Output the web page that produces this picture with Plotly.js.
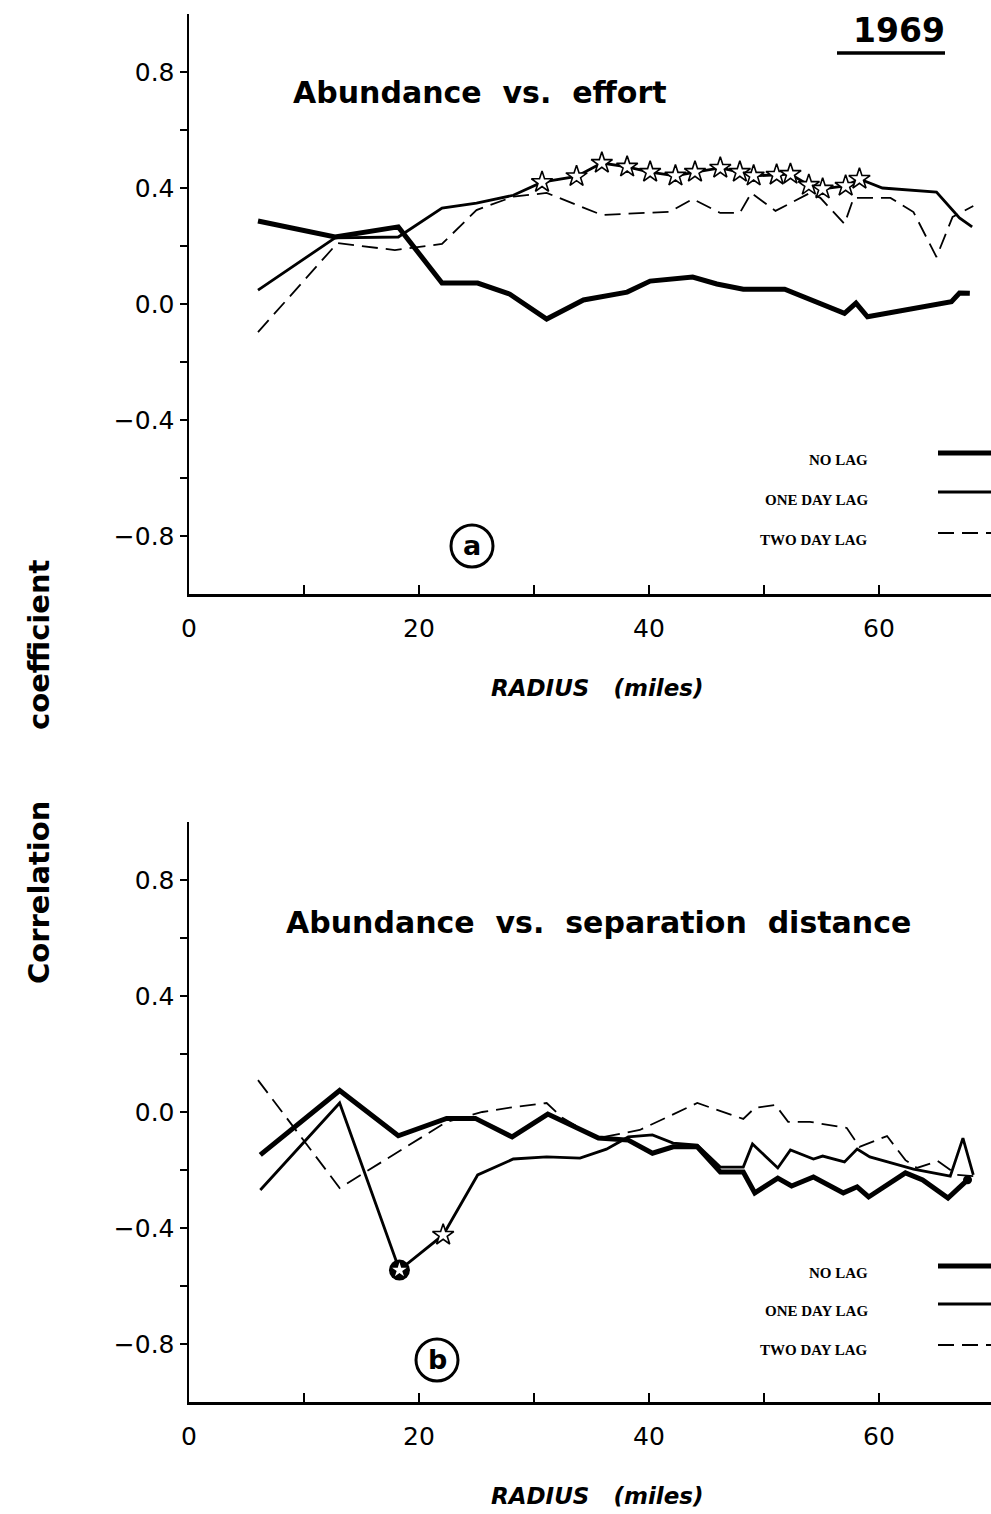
<!DOCTYPE html>
<html>
<head>
<meta charset="utf-8">
<script src="https://cdn.plot.ly/plotly-3.0.1.min.js"></script>
<style>html,body{margin:0;padding:0;background:#fff;}</style>
</head>
<body>
<div id="chart" style="width:991px;height:1514px;"></div>
<script>
// ---------- DATA ----------
// Panel (a): Abundance vs. effort
const topX_noLag = [6.0,12.7,18.2,22.0,25.1,27.9,31.1,34.3,38.1,40.1,43.8,45.9,48.2,51.8,57.0,58.0,59.0,66.3,67.0,67.9];
const topY_noLag = [0.286,0.231,0.266,0.072,0.072,0.034,-0.052,0.014,0.041,0.079,0.093,0.069,0.051,0.051,-0.032,0.003,-0.044,0.008,0.038,0.037];

const topX_oneLag = [6.0,12.7,18.2,22.0,25.0,28.2,30.7,33.7,35.9,38.1,40.1,42.3,44.0,46.2,47.9,49.1,51.1,52.3,53.9,55.1,57.1,58.3,60.3,65.0,67.0,68.1];
const topY_oneLag = [0.048,0.228,0.231,0.331,0.348,0.375,0.42,0.44,0.486,0.473,0.455,0.442,0.455,0.469,0.455,0.442,0.445,0.448,0.41,0.397,0.407,0.431,0.40,0.386,0.297,0.266];
// 1 = significant (open star), 0 = none
const topSig_oneLag = [0,0,0,0,0,0,1,1,1,1,1,1,1,1,1,1,1,1,1,1,1,1,0,0,0,0];

const topX_twoLag = [6.0,12.9,17.9,22.0,25.0,28.2,31.1,35.9,41.8,43.8,46.2,47.9,48.9,51.0,54.0,54.9,57.0,57.8,61.0,63.0,65.0,66.4,68.2];
const topY_twoLag = [-0.097,0.21,0.186,0.207,0.324,0.37,0.383,0.307,0.318,0.362,0.314,0.314,0.383,0.321,0.383,0.366,0.276,0.366,0.366,0.317,0.162,0.30,0.338];

// Panel (b): Abundance vs. separation distance
const botX_noLag = [6.2,13.1,18.2,22.4,24.9,28.1,31.2,35.6,38.2,40.3,42.1,44.2,46.2,48.2,49.2,51.2,52.4,54.3,56.9,58.1,59.1,62.3,63.8,66.0,67.7];
const botY_noLag = [-0.148,0.074,-0.082,-0.022,-0.022,-0.086,-0.007,-0.09,-0.097,-0.142,-0.12,-0.12,-0.207,-0.207,-0.279,-0.228,-0.255,-0.224,-0.279,-0.258,-0.293,-0.21,-0.234,-0.297,-0.234];
// 2 = small filled dot
const botSig_noLag = [0,0,0,0,0,0,0,0,0,0,0,0,0,0,0,0,0,0,0,0,0,0,0,0,2];

const botX_oneLag = [6.2,13.1,18.3,22.1,25.1,28.2,31.1,34.0,36.3,38.2,40.3,42.1,44.2,46.2,48.2,49.0,51.2,52.3,54.3,55.1,57.0,58.1,59.2,61.2,63.0,66.2,67.3,68.2];
const botY_oneLag = [-0.269,0.031,-0.545,-0.424,-0.217,-0.162,-0.155,-0.159,-0.128,-0.086,-0.079,-0.107,-0.114,-0.19,-0.19,-0.11,-0.193,-0.131,-0.162,-0.152,-0.172,-0.128,-0.155,-0.176,-0.197,-0.221,-0.09,-0.217];
// 1 = open star, 3 = filled circle with star
const botSig_oneLag = [0,0,3,1,0,0,0,0,0,0,0,0,0,0,0,0,0,0,0,0,0,0,0,0,0,0,0,0];

const botX_twoLag = [6.0,13.1,22.4,25.5,28.2,31.1,32.5,35.5,39.2,44.2,48.2,49.2,51.0,52.1,54.0,57.2,58.3,60.7,62.3,63.3,65.1,66.8,68.2];
const botY_twoLag = [0.11,-0.262,-0.034,0.0,0.017,0.031,-0.021,-0.09,-0.062,0.031,-0.024,0.014,0.024,-0.034,-0.034,-0.055,-0.12,-0.083,-0.166,-0.193,-0.169,-0.217,-0.221];

// Tick labels
const xTickVals = [0,20,40,60];
const xTickText = ["0","20","40","60"];
const yTickVals = [-0.8,-0.4,0,0.4,0.8];
const yTickText = ["\u22120.8","\u22120.4","0.0","0.4","0.8"];

const seriesNames = ["NO LAG","ONE DAY LAG","TWO DAY LAG"];
const panelTitles = ["Abundance\u00A0 vs.\u00A0 effort","Abundance\u00A0 vs.\u00A0 separation\u00A0 distance"];
const panelLetters = ["a","b"];
const yearLabel = "1969";
const xTitle = "RADIUS\u00A0\u00A0\u00A0(miles)";
const yTitle = "Correlation\u00A0\u00A0\u00A0\u00A0\u00A0\u00A0 coefficient";

// ---------- HELPERS ----------
const W = 991, H = 1514;
const px = x => x / W;
const py = y => 1 - y / H;
function pick(xs, ys, flags, v) {
  const ox = [], oy = [];
  flags.forEach((f, i) => { if (f === v) { ox.push(xs[i]); oy.push(ys[i]); } });
  return {x: ox, y: oy};
}
const styles = [
  {color:'#000', width:5},
  {color:'#000', width:2.8},
  {color:'#000', width:1.8, dash:'16px,8px'}
];

const traces = [];
function addLine(xs, ys, st, xa, ya) {
  traces.push({x: xs, y: ys, type:'scatter', mode:'lines', line: Object.assign({}, st),
    xaxis: xa, yaxis: ya, showlegend:false, hoverinfo:'skip'});
}
// top panel
addLine(topX_noLag, topY_noLag, styles[0], 'x', 'y');
addLine(topX_oneLag, topY_oneLag, styles[1], 'x', 'y');
addLine(topX_twoLag, topY_twoLag, styles[2], 'x', 'y');
let s = pick(topX_oneLag, topY_oneLag, topSig_oneLag, 1);
traces.push({x: s.x, y: s.y, type:'scatter', mode:'markers', xaxis:'x', yaxis:'y', showlegend:false,
  marker:{symbol:'star', size:16, color:'#fff', line:{color:'#000', width:1.6}}});
// bottom panel
addLine(botX_noLag, botY_noLag, styles[0], 'x2', 'y2');
addLine(botX_oneLag, botY_oneLag, styles[1], 'x2', 'y2');
addLine(botX_twoLag, botY_twoLag, styles[2], 'x2', 'y2');
s = pick(botX_oneLag, botY_oneLag, botSig_oneLag, 1);
traces.push({x: s.x, y: s.y, type:'scatter', mode:'markers', xaxis:'x2', yaxis:'y2', showlegend:false,
  marker:{symbol:'star', size:16, color:'#fff', line:{color:'#000', width:1.6}}});
s = pick(botX_oneLag, botY_oneLag, botSig_oneLag, 3);
traces.push({x: s.x, y: s.y, type:'scatter', mode:'markers', xaxis:'x2', yaxis:'y2', showlegend:false,
  marker:{symbol:'circle', size:21, color:'#000', line:{width:0}}});
traces.push({x: s.x, y: s.y, type:'scatter', mode:'markers', xaxis:'x2', yaxis:'y2', showlegend:false,
  marker:{symbol:'star', size:11, color:'#fff', line:{width:0}}});
s = pick(botX_noLag, botY_noLag, botSig_noLag, 2);
traces.push({x: s.x, y: s.y, type:'scatter', mode:'markers', xaxis:'x2', yaxis:'y2', showlegend:false,
  marker:{symbol:'circle', size:9, color:'#000', line:{width:0}}});

// ---------- AXES ----------
const tickFont = {family:'DejaVu Sans, sans-serif', size:25, color:'#000'};
function xAxis(anchor) {
  return {domain:[189/W, 1], range:[0, 69.74], anchor: anchor, showline:true, linecolor:'#000', linewidth:2.5,
    showgrid:false, zeroline:false, tickvals:xTickVals, ticktext:xTickText, ticks:'inside', ticklen:9,
    tickwidth:2, tickcolor:'#000', tickfont:tickFont, ticklabelstandoff:10, automargin:false,
    minor:{tickvals:[10,30,50], ticks:'inside', ticklen:9, tickwidth:2, tickcolor:'#000', showgrid:false}};
}
function yAxis(anchor, dom) {
  return {domain:dom, range:[-1, 1], anchor: anchor, showline:true, linecolor:'#000', linewidth:2.5,
    showgrid:false, zeroline:false, tickvals:yTickVals, ticktext:yTickText, ticks:'outside', ticklen:7,
    tickwidth:2, tickcolor:'#000', tickfont:tickFont, ticklabelstandoff:0, automargin:false,
    minor:{tickvals:[-0.6,-0.2,0.2,0.6], ticks:'outside', ticklen:7, tickwidth:2, tickcolor:'#000', showgrid:false}};
}

// ---------- ANNOTATIONS & SHAPES ----------
const titleFont = {family:'DejaVu Sans, sans-serif', size:30, color:'#000'};
const legFont = {family:'Liberation Serif, DejaVu Serif, serif', size:15, color:'#000', weight:'bold'};
const annotations = [];
const shapes = [];
function ann(text, x, y, font, extra) {
  annotations.push(Object.assign({text: text, x: px(x), y: py(y), xref:'paper', yref:'paper',
    showarrow:false, font: font, xanchor:'center', yanchor:'middle'}, extra || {}));
}
// year
ann('<b>' + yearLabel + '</b>', 899, 31, {family:'DejaVu Sans, sans-serif', size:33, color:'#000'});
shapes.push({type:'line', xref:'paper', yref:'paper', x0:px(837), x1:px(945), y0:py(53), y1:py(53), line:{color:'#000', width:3.5}});
// panel titles
ann('<b>' + panelTitles[0] + '</b>', 480, 92, titleFont);
ann('<b>' + panelTitles[1] + '</b>', 598, 923, titleFont);
// axis titles
const xtFont = {family:'DejaVu Sans, sans-serif', size:23, color:'#000', style:'italic', weight:'bold'};
ann(xTitle, 597, 688, xtFont);
ann(xTitle, 597, 1496, xtFont);
ann('<b>' + yTitle + '</b>', 39, 772, {family:'DejaVu Sans, sans-serif', size:29, color:'#000'}, {textangle:-90});
// circled letters
const letterPos = [[472,546],[437,1360]];
letterPos.forEach((p, i) => {
  shapes.push({type:'circle', xref:'paper', yref:'paper', x0:px(p[0]-21), x1:px(p[0]+21), y0:py(p[1]-21), y1:py(p[1]+21), line:{color:'#000', width:3}});
  ann('<b>' + panelLetters[i] + '</b>', p[0], p[1]-1, {family:'DejaVu Sans, sans-serif', size:27, color:'#000'});
});
// legends
const legTextY = [[460,500,540],[1273,1311,1350]];
const legLineY = [[453,492,533],[1266,1304,1345]];
for (let p = 0; p < 2; p++) {
  for (let k = 0; k < 3; k++) {
    ann(seriesNames[k], 870, legTextY[p][k], legFont, {xanchor:'right'});
    const st = styles[k];
    shapes.push({type:'line', xref:'paper', yref:'paper', x0:px(938), x1:px(991), y0:py(legLineY[p][k]), y1:py(legLineY[p][k]),
      line:{color:'#000', width: st.width, dash: st.dash || 'solid'}});
  }
}

const layout = {
  width: W, height: H, margin:{l:0, r:0, t:0, b:0},
  paper_bgcolor:'#fff', plot_bgcolor:'rgba(0,0,0,0)', showlegend:false,
  xaxis: xAxis('y'), yaxis: yAxis('x', [1 - 594/H, 1 - 14/H]),
  xaxis2: xAxis('y2'), yaxis2: yAxis('x2', [1 - 1402/H, 1 - 822/H]),
  annotations: annotations, shapes: shapes
};

Plotly.newPlot('chart', traces, layout, {staticPlot:true, displayModeBar:false});
</script>
</body>
</html>
